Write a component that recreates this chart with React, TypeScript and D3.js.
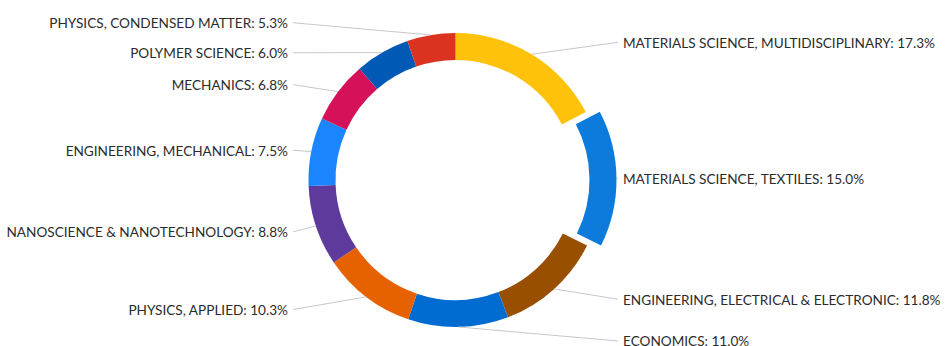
import React from "react";
import * as d3 from "d3";

const categories = [
  "MATERIALS SCIENCE, MULTIDISCIPLINARY",
  "MATERIALS SCIENCE, TEXTILES",
  "ENGINEERING, ELECTRICAL & ELECTRONIC",
  "ECONOMICS",
  "PHYSICS, APPLIED",
  "NANOSCIENCE & NANOTECHNOLOGY",
  "ENGINEERING, MECHANICAL",
  "MECHANICS",
  "POLYMER SCIENCE",
  "PHYSICS, CONDENSED MATTER",
];
const values = [17.3, 15.0, 11.8, 11.0, 10.3, 8.8, 7.5, 6.8, 6.0, 5.3];
const colors = [
  "#FFC20A", "#0C7BDC", "#994F00", "#006CD1", "#E66100",
  "#5D3A9B", "#1A85FF", "#D41159", "#005AB5", "#DC3220",
];
const slicedIndex = 1;

const W = 945, H = 346;
const cx = 455.5, cy = 180;
const outerR = 147, innerR = 120;
const slicedOffset = 14;
const labelR = 161;
const labelGap = 30;
const FONT = "Lato, 'Source Sans Pro', sans-serif";

export default function App() {
  const pie = d3.pie<number>().sort(null).value((d) => d)(values);
  const arc = d3.arc<d3.PieArcDatum<number>>().innerRadius(innerR).outerRadius(outerR);

  const items = pie.map((p, i) => {
    const mid = (p.startAngle + p.endAngle) / 2;
    const off = i === slicedIndex ? slicedOffset : 0;
    const dx = Math.sin(mid) * off, dy = -Math.cos(mid) * off;
    const right = Math.sin(mid) >= 0;
    const anchorX = cx + dx + Math.sin(mid) * outerR;
    const anchorY = cy + dy - Math.cos(mid) * outerR;
    const ly = cy - Math.cos(mid) * labelR + (right ? 0 : 1.5);
    return { p, i, mid, dx, dy, right, anchorX, anchorY, ly };
  });

  // resolve label overlaps per side (top to bottom)
  [true, false].forEach((side) => {
    const s = items.filter((d) => d.right === side).sort((a, b) => a.ly - b.ly);
    for (let k = 1; k < s.length; k++) {
      if (s[k].ly - s[k - 1].ly < labelGap) s[k].ly = s[k - 1].ly + labelGap;
    }
  });

  const rightX = 623, leftX = 288;

  return (
    <svg width={W} height={H} style={{ position: "absolute", left: 0, top: 0, background: "#fff" }}>
      <g>
        {items.map((d) => (
          <path
            key={"s" + d.i}
            d={arc(d.p) || ""}
            transform={`translate(${cx + d.dx},${cy + d.dy})`}
            fill={colors[d.i]}
          />
        ))}
      </g>
      <g>
        {items.map((d) => (
          <line
            key={"l" + d.i}
            x1={d.anchorX}
            y1={d.anchorY}
            x2={d.right ? rightX - 5 : leftX + 5}
            y2={d.ly}
            stroke="#c8c8c8"
            strokeWidth={1}
          />
        ))}
      </g>
      <g>
        {items.map((d) => (
          <text
            key={"t" + d.i}
            x={d.right ? rightX : leftX}
            y={d.ly}
            dy="0.4em"
            textAnchor={d.right ? "start" : "end"}
            fontFamily={FONT}
            fontSize={13.6}
            fill="#2b2b2b"
          >
            {`${categories[d.i]}: ${values[d.i].toFixed(1)}%`}
          </text>
        ))}
      </g>
    </svg>
  );
}
